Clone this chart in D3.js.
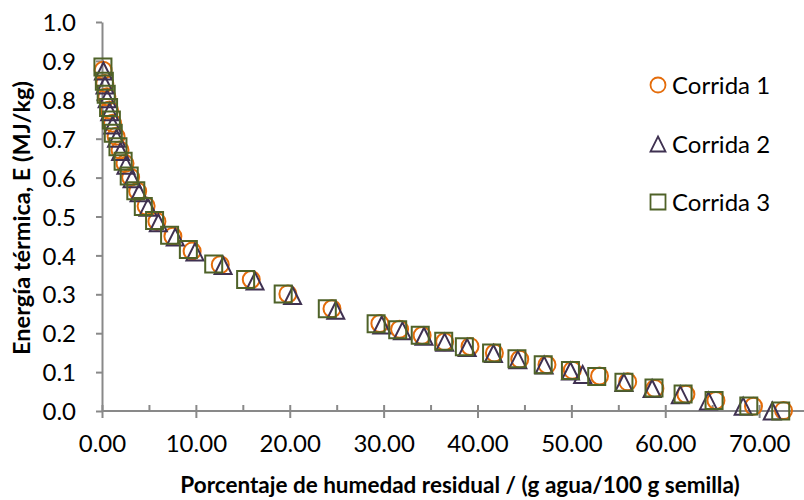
<!DOCTYPE html>
<html>
<head>
<meta charset="utf-8">
<script src="https://cdn.jsdelivr.net/npm/d3@7"></script>
<style>
  html, body { margin: 0; padding: 0; background: #fff; }
  svg { display: block; }
  text { font-family: Lato, "Open Sans", sans-serif; fill: #000; }
</style>
</head>
<body>
<svg id="chart" width="804" height="500"></svg>
<script>
// ---- data ----
const seriesNames = ["Corrida 1", "Corrida 2", "Corrida 3"];
// Corrida 1 (circles)
const x1 = [0.12,0.30,0.52,0.80,1.12,1.50,1.92,2.45,3.05,3.80,4.70,5.85,7.55,9.60,12.6,15.9,19.8,24.5,29.6,31.7,34.1,36.5,39.2,41.8,44.5,47.4,50.1,53.0,56.0,58.9,62.2,65.4,69.4,72.6];
const e1 = [0.876,0.842,0.808,0.774,0.740,0.706,0.671,0.636,0.601,0.565,0.527,0.487,0.449,0.411,0.376,0.338,0.301,0.263,0.225,0.210,0.194,0.178,0.166,0.149,0.133,0.119,0.105,0.090,0.075,0.058,0.043,0.027,0.012,0.001];
// Corrida 2 (triangles)
const x2 = [0.15,0.32,0.55,0.82,1.15,1.55,1.98,2.55,3.20,3.95,4.90,6.00,7.80,9.90,12.9,16.3,20.3,24.9,29.8,32.0,34.3,36.5,38.9,41.7,44.3,47.1,49.9,51.2,55.6,58.6,61.6,64.6,68.3,71.4];
const e2 = [0.874,0.838,0.803,0.769,0.735,0.701,0.667,0.632,0.597,0.561,0.524,0.484,0.447,0.409,0.374,0.334,0.297,0.259,0.221,0.206,0.192,0.177,0.163,0.148,0.132,0.118,0.103,0.094,0.073,0.058,0.042,0.026,0.012,0.000];
// Corrida 3 (squares)
const x3 = [0.10,0.25,0.45,0.70,1.00,1.20,1.70,2.25,2.90,3.60,4.40,5.60,7.20,9.20,11.9,15.3,19.3,24.0,29.2,31.5,33.9,36.4,38.6,41.5,44.2,47.0,49.9,52.7,55.6,58.8,61.9,65.2,68.9,72.3];
const e3 = [0.884,0.848,0.814,0.780,0.748,0.714,0.679,0.642,0.604,0.566,0.526,0.490,0.452,0.415,0.378,0.338,0.301,0.263,0.224,0.209,0.195,0.179,0.165,0.149,0.134,0.119,0.104,0.089,0.074,0.059,0.044,0.027,0.013,0.000];

const xTicks = [0,10,20,30,40,50,60,70];
const xMinorTicks = [5,15,25,35,45,55,65,75];
const yTicks = [0,0.1,0.2,0.3,0.4,0.5,0.6,0.7,0.8,0.9,1.0];
const xTitle = "Porcentaje de humedad residual / (g agua/100 g semilla)";
const yTitle = "Energía térmica, E (MJ/kg)";

// ---- chart ----
const svg = d3.select("#chart");
const x = d3.scaleLinear().domain([0, 80]).range([102, 853]);
const y = d3.scaleLinear().domain([0, 1]).range([411, 22]);
const axisColor = "#898989";
const fs = 24;

// Y axis
const yAxis = svg.append("g").attr("transform", `translate(${x(0)},0)`)
  .call(d3.axisLeft(y).tickValues(yTicks).tickFormat(d3.format(".1f")).tickSizeInner(6).tickSizeOuter(0).tickPadding(20));
yAxis.select(".domain").attr("stroke", axisColor).attr("stroke-width", 2);
yAxis.selectAll(".tick line").attr("stroke", axisColor).attr("stroke-width", 2);
yAxis.selectAll(".tick text").attr("font-size", fs).attr("font-family", "Lato").attr("fill", "#000").attr("dy", "0.36em");

// X axis (major, crossing ticks) — axis line runs to the right edge
svg.append("line").attr("x1", x(0)).attr("x2", 804).attr("y1", y(0)).attr("y2", y(0))
  .attr("stroke", axisColor).attr("stroke-width", 2);
const xAxis = svg.append("g").attr("transform", `translate(0,${y(0)})`)
  .call(d3.axisBottom(x).tickValues(xTicks).tickFormat(d3.format(".2f")).tickSizeInner(6).tickSizeOuter(0).tickPadding(18));
xAxis.select(".domain").remove();
xAxis.selectAll(".tick line").attr("stroke", axisColor).attr("stroke-width", 2).attr("y1", -6).attr("y2", 7);
xAxis.selectAll(".tick text").attr("font-size", fs).attr("font-family", "Lato").attr("fill", "#000");
// X minor ticks (inside)
const xMinor = svg.append("g").attr("transform", `translate(0,${y(0)})`)
  .call(d3.axisBottom(x).tickValues(xMinorTicks).tickFormat("").tickSizeInner(-6).tickSizeOuter(0));
xMinor.select(".domain").remove();
xMinor.selectAll(".tick line").attr("stroke", axisColor).attr("stroke-width", 2);

// Axis titles
svg.append("text").attr("x", 460).attr("y", 493).attr("text-anchor", "middle")
  .attr("font-size", 22.5).attr("font-weight", "bold").text(xTitle);
svg.append("text").attr("transform", "translate(30,218) rotate(-90)").attr("text-anchor", "middle")
  .attr("font-size", 23.5).attr("font-weight", "bold").text(yTitle);

// Marker shapes
const colors = ["#E46C0A", "#3F3151", "#4F6228"];
function markerPath(kind, s) {
  const h = s / 2;
  if (kind === 1) return `M0,${-h}L${h},${h}L${-h},${h}Z`;
  return `M${-h},${-h}H${h}V${h}H${-h}Z`;
}
function drawMarker(g, kind, cx, cy, s, sw) {
  if (kind === 0) {
    g.append("circle").attr("cx", cx).attr("cy", cy).attr("r", s / 2)
      .attr("fill", "none").attr("stroke", colors[0]).attr("stroke-width", sw);
  } else {
    g.append("path").attr("transform", `translate(${cx},${cy})`).attr("d", markerPath(kind, s))
      .attr("fill", "none").attr("stroke", colors[kind]).attr("stroke-width", sw).attr("stroke-linejoin", "miter");
  }
}

const series = [
  { xs: x1, es: e1 },
  { xs: x2, es: e2 },
  { xs: x3, es: e3 }
];
const plot = svg.append("g");
series.forEach((s, k) => {
  const g = plot.append("g");
  s.xs.forEach((xv, i) => drawMarker(g, k, x(xv), y(s.es[i]), 17, 2));
});

// Legend
const legendY = [85, 144, 202];
const lg = svg.append("g");
seriesNames.forEach((name, k) => {
  drawMarker(lg, k, 658, legendY[k], 15, 1.8);
  lg.append("text").attr("x", 672).attr("y", legendY[k]).attr("dy", "0.36em")
    .attr("font-size", fs).text(name);
});
</script>
</body>
</html>
